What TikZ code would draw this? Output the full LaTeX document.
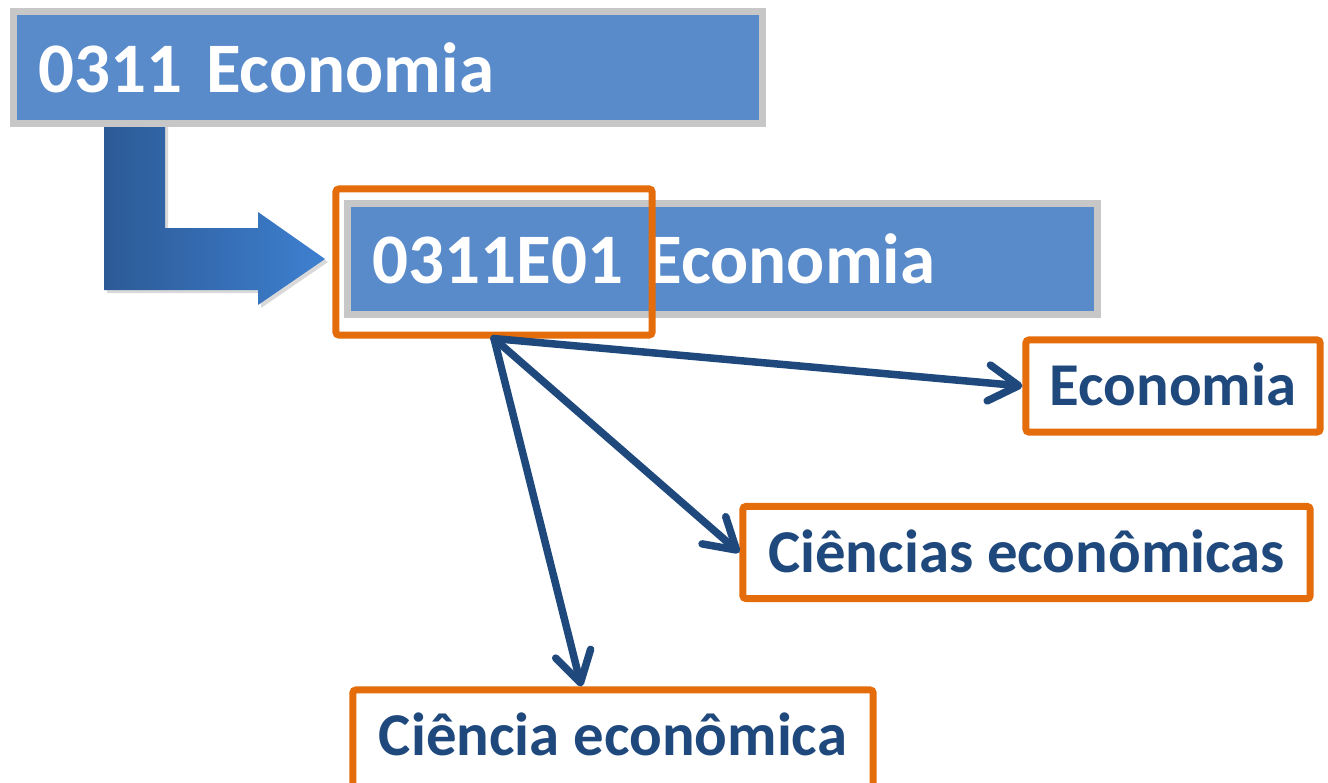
\documentclass[tikz,border=0pt]{standalone}
\usepackage{fontspec}
\setmainfont{Carlito}
\definecolor{boxblue}{RGB}{89,139,203}
\definecolor{textblue}{RGB}{31,73,125}
\definecolor{hlorange}{RGB}{228,108,10}
\definecolor{arrowdark}{RGB}{44,90,150}
\definecolor{arrowlight}{RGB}{62,128,208}
\usetikzlibrary{arrows.meta, calc, shadows}

\begin{document}
\begin{tikzpicture}[x=0.01cm, y=-0.01cm,
    codebox/.style={draw=black!22, line width=0.07cm, fill=boxblue, text=white,
      font=\fontsize{20.2}{24}\selectfont\bfseries, minimum width=7.49cm, minimum height=1.11cm,
      text width=6.99cm, align=left, inner xsep=0.25cm,
      drop shadow={opacity=0.3, shadow xshift=0.03cm, shadow yshift=-0.03cm}},
    termbox/.style={draw=hlorange, line width=0.07cm, rounded corners=0.03cm, fill=white,
      text=textblue, font=\fontsize{17.3}{21}\selectfont\bfseries, minimum height=0.92cm,
      text height=11.2pt, text depth=0pt},
    link/.style={draw=textblue, line width=0.075cm, line cap=round,
      -{Straight Barb[length=0.3cm, width=0.36cm, round]}}]
  \useasboundingbox (0,0) rectangle (1328,782);
  \clip (0,0) rectangle (1328,782);

  % Bent arrow
  \path[left color=arrowdark, right color=arrowlight,
      drop shadow={opacity=0.3, shadow xshift=0.03cm, shadow yshift=-0.03cm}]
    (104,124) -- (165,124) -- (165,228) -- (258,228) -- (258,212) -- (325,259)
    -- (258,305) -- (258,290) -- (104,290) -- cycle;

  % Code boxes
  \node[codebox] (broad) at (388,67.5) {0311 Economia};
  \node[codebox] (detail) at (722.5,259) {0311E01 Economia};
  \node[termbox, minimum width=3.16cm, minimum height=1.46cm, fill=none] (codehl) at (494,262) {};

  % Terms
  \node[termbox, minimum width=2.94cm] (econ) at (1173,386) {Economia};
  \node[termbox, minimum width=5.67cm] (ciencias) at (1026.5,552.5) {Ciências econômicas};
  \node[termbox, minimum width=5.20cm, minimum height=0.98cm, text depth=0.06cm] (ciencia) at (613,739) {Ciência econômica};

  % Links
  \draw[link] (codehl.south) -- (econ.west);
  \draw[link] (codehl.south) -- (ciencias.west);
  \draw[link] (codehl.south) -- ($(ciencia.north west)!0.44!(ciencia.north east)$);
\end{tikzpicture}
\end{document}
